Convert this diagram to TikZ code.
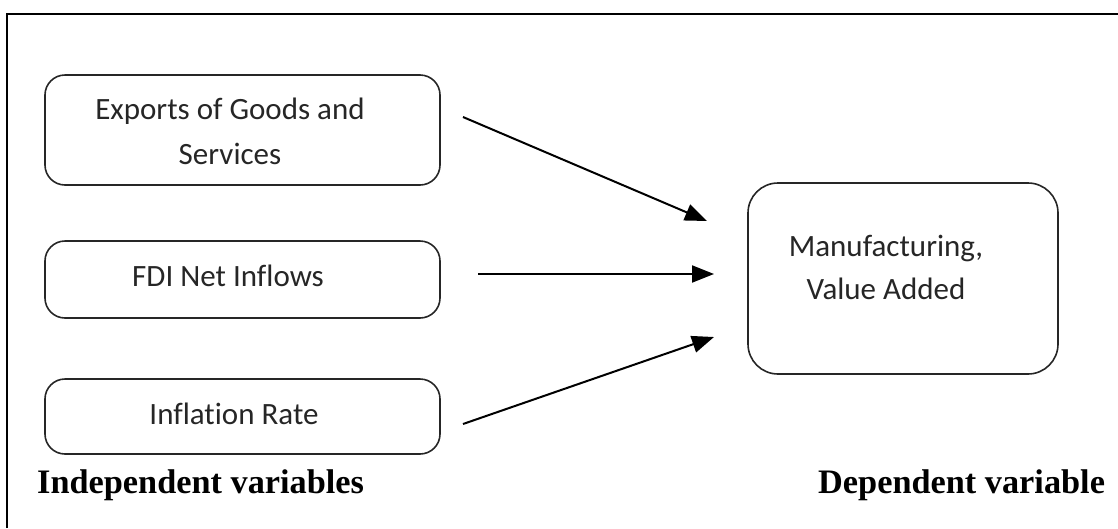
\documentclass[tikz,border=0pt]{standalone}
\usepackage{fontspec}
\setmainfont[Ligatures=NoCommon]{Carlito}
\newfontfamily\timesfont{Liberation Serif}
\usetikzlibrary{arrows.meta}
\begin{document}
\begin{tikzpicture}[x=1pt,y=-1pt,
  box/.style={draw=black!85, line width=1.6pt, rounded corners=20pt, inner sep=0pt},
  boxtext/.style={font=\fontsize{31}{45}\selectfont, text=black!85, align=center, inner sep=0pt},
  lbl/.style={font=\timesfont\bfseries\fontsize{34.3}{36}\selectfont, inner sep=0pt, anchor=base west},
  arr/.style={line width=2pt, -{Triangle[length=22pt,width=17pt]}}]
\useasboundingbox (0,0) rectangle (1118,528);
% outer frame (top and left only)
\draw[line width=2pt] (7,528) -- (7,14) -- (1118,14);
% left boxes
\node[box, minimum width=395pt, minimum height=110pt] (b1) at (242.5,130) {};
\node[boxtext] (t1) at (230,131) {Exports of Goods and\\Services};
\node[box, minimum width=395pt, minimum height=77pt] (b2) at (242.5,279.5) {};
\node[boxtext] (t2) at (228,276) {FDI Net Inflows};
\node[box, minimum width=395pt, minimum height=75pt] (b3) at (242.5,416.5) {};
\node[boxtext] (t3) at (234,414) {Inflation Rate};
% right box
\node[box, rounded corners=30pt, minimum width=310pt, minimum height=191pt] (r) at (903,278.5) {};
\node[boxtext, font=\fontsize{31}{43}\selectfont] (tr) at (886,267) {Manufacturing,\\Value Added};
% arrows
\coordinate (s1) at (463,117);
\coordinate (e1) at (707,221);
\coordinate (s2) at (478,274);
\coordinate (e2) at (714,274);
\coordinate (s3) at (463,424);
\coordinate (e3) at (714,337);
\draw[arr] (s1) -- (e1);
\draw[arr] (s2) -- (e2);
\draw[arr] (s3) -- (e3);
% labels
\node[lbl] (li) at (37,493) {Independent variables};
\node[lbl] (ld) at (818,493) {Dependent variable};
\end{tikzpicture}
\end{document}
